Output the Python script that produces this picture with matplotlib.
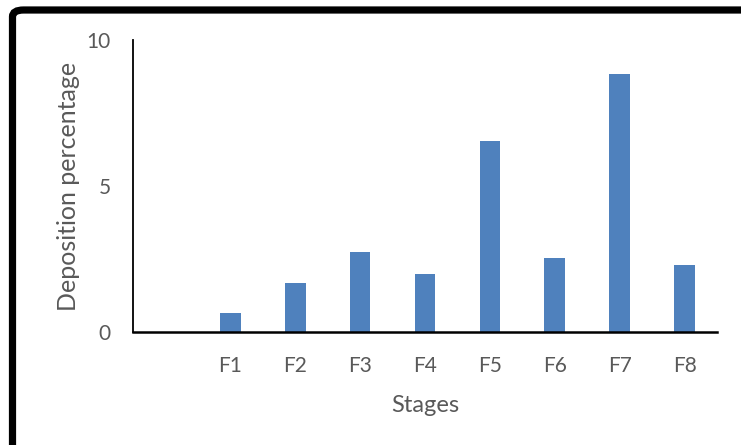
import matplotlib
matplotlib.use("Agg")
import matplotlib.pyplot as plt
from matplotlib.patches import FancyBboxPatch

stages = ["", "F1", "F2", "F3", "F4", "F5", "F6", "F7", "F8"]
deposition = [0.0, 0.65, 1.68, 2.75, 1.99, 6.54, 2.54, 8.84, 2.29]

W, H = 741, 445
fig = plt.figure(figsize=(W / 100, H / 100), dpi=100)
plt.rcParams["font.family"] = ["Lato", "DejaVu Sans"]
gray = "#595959"

ax = fig.add_axes([133 / W, 1 - 332 / H, (717 - 133) / W, (332 - 40) / H])
x = list(range(len(stages)))
ax.bar(x, deposition, width=0.32, color="#4f81bd", zorder=2)

ax.set_xlim(-0.5, len(stages) - 0.5)
ax.set_ylim(0, 10)
ax.set_xticks(x)
ax.set_xticklabels(stages)
ax.set_yticks([0, 5, 10])
ax.tick_params(axis="both", length=0, labelsize=15, colors=gray)
ax.tick_params(axis="x", pad=17)
ax.tick_params(axis="y", pad=16)
for side in ("top", "right"):
    ax.spines[side].set_visible(False)
ax.spines["left"].set_linewidth(1.3)
ax.spines["bottom"].set_linewidth(1.8)

ax.set_xlabel("Stages", fontsize=17, color=gray, labelpad=14)
ax.set_ylabel("Deposition percentage", fontsize=18, color=gray, labelpad=5)

# thick rounded frame (only left/top visible)
frame = FancyBboxPatch((12.5 / W, -0.2), 1.3, 1.2 - 10 / H,
                       boxstyle="round,pad=0,rounding_size=0.015",
                       transform=fig.transFigure, fill=False,
                       edgecolor="black", linewidth=5.2, clip_on=False)
fig.patches.append(frame)

fig.savefig("out.png", dpi=100)
